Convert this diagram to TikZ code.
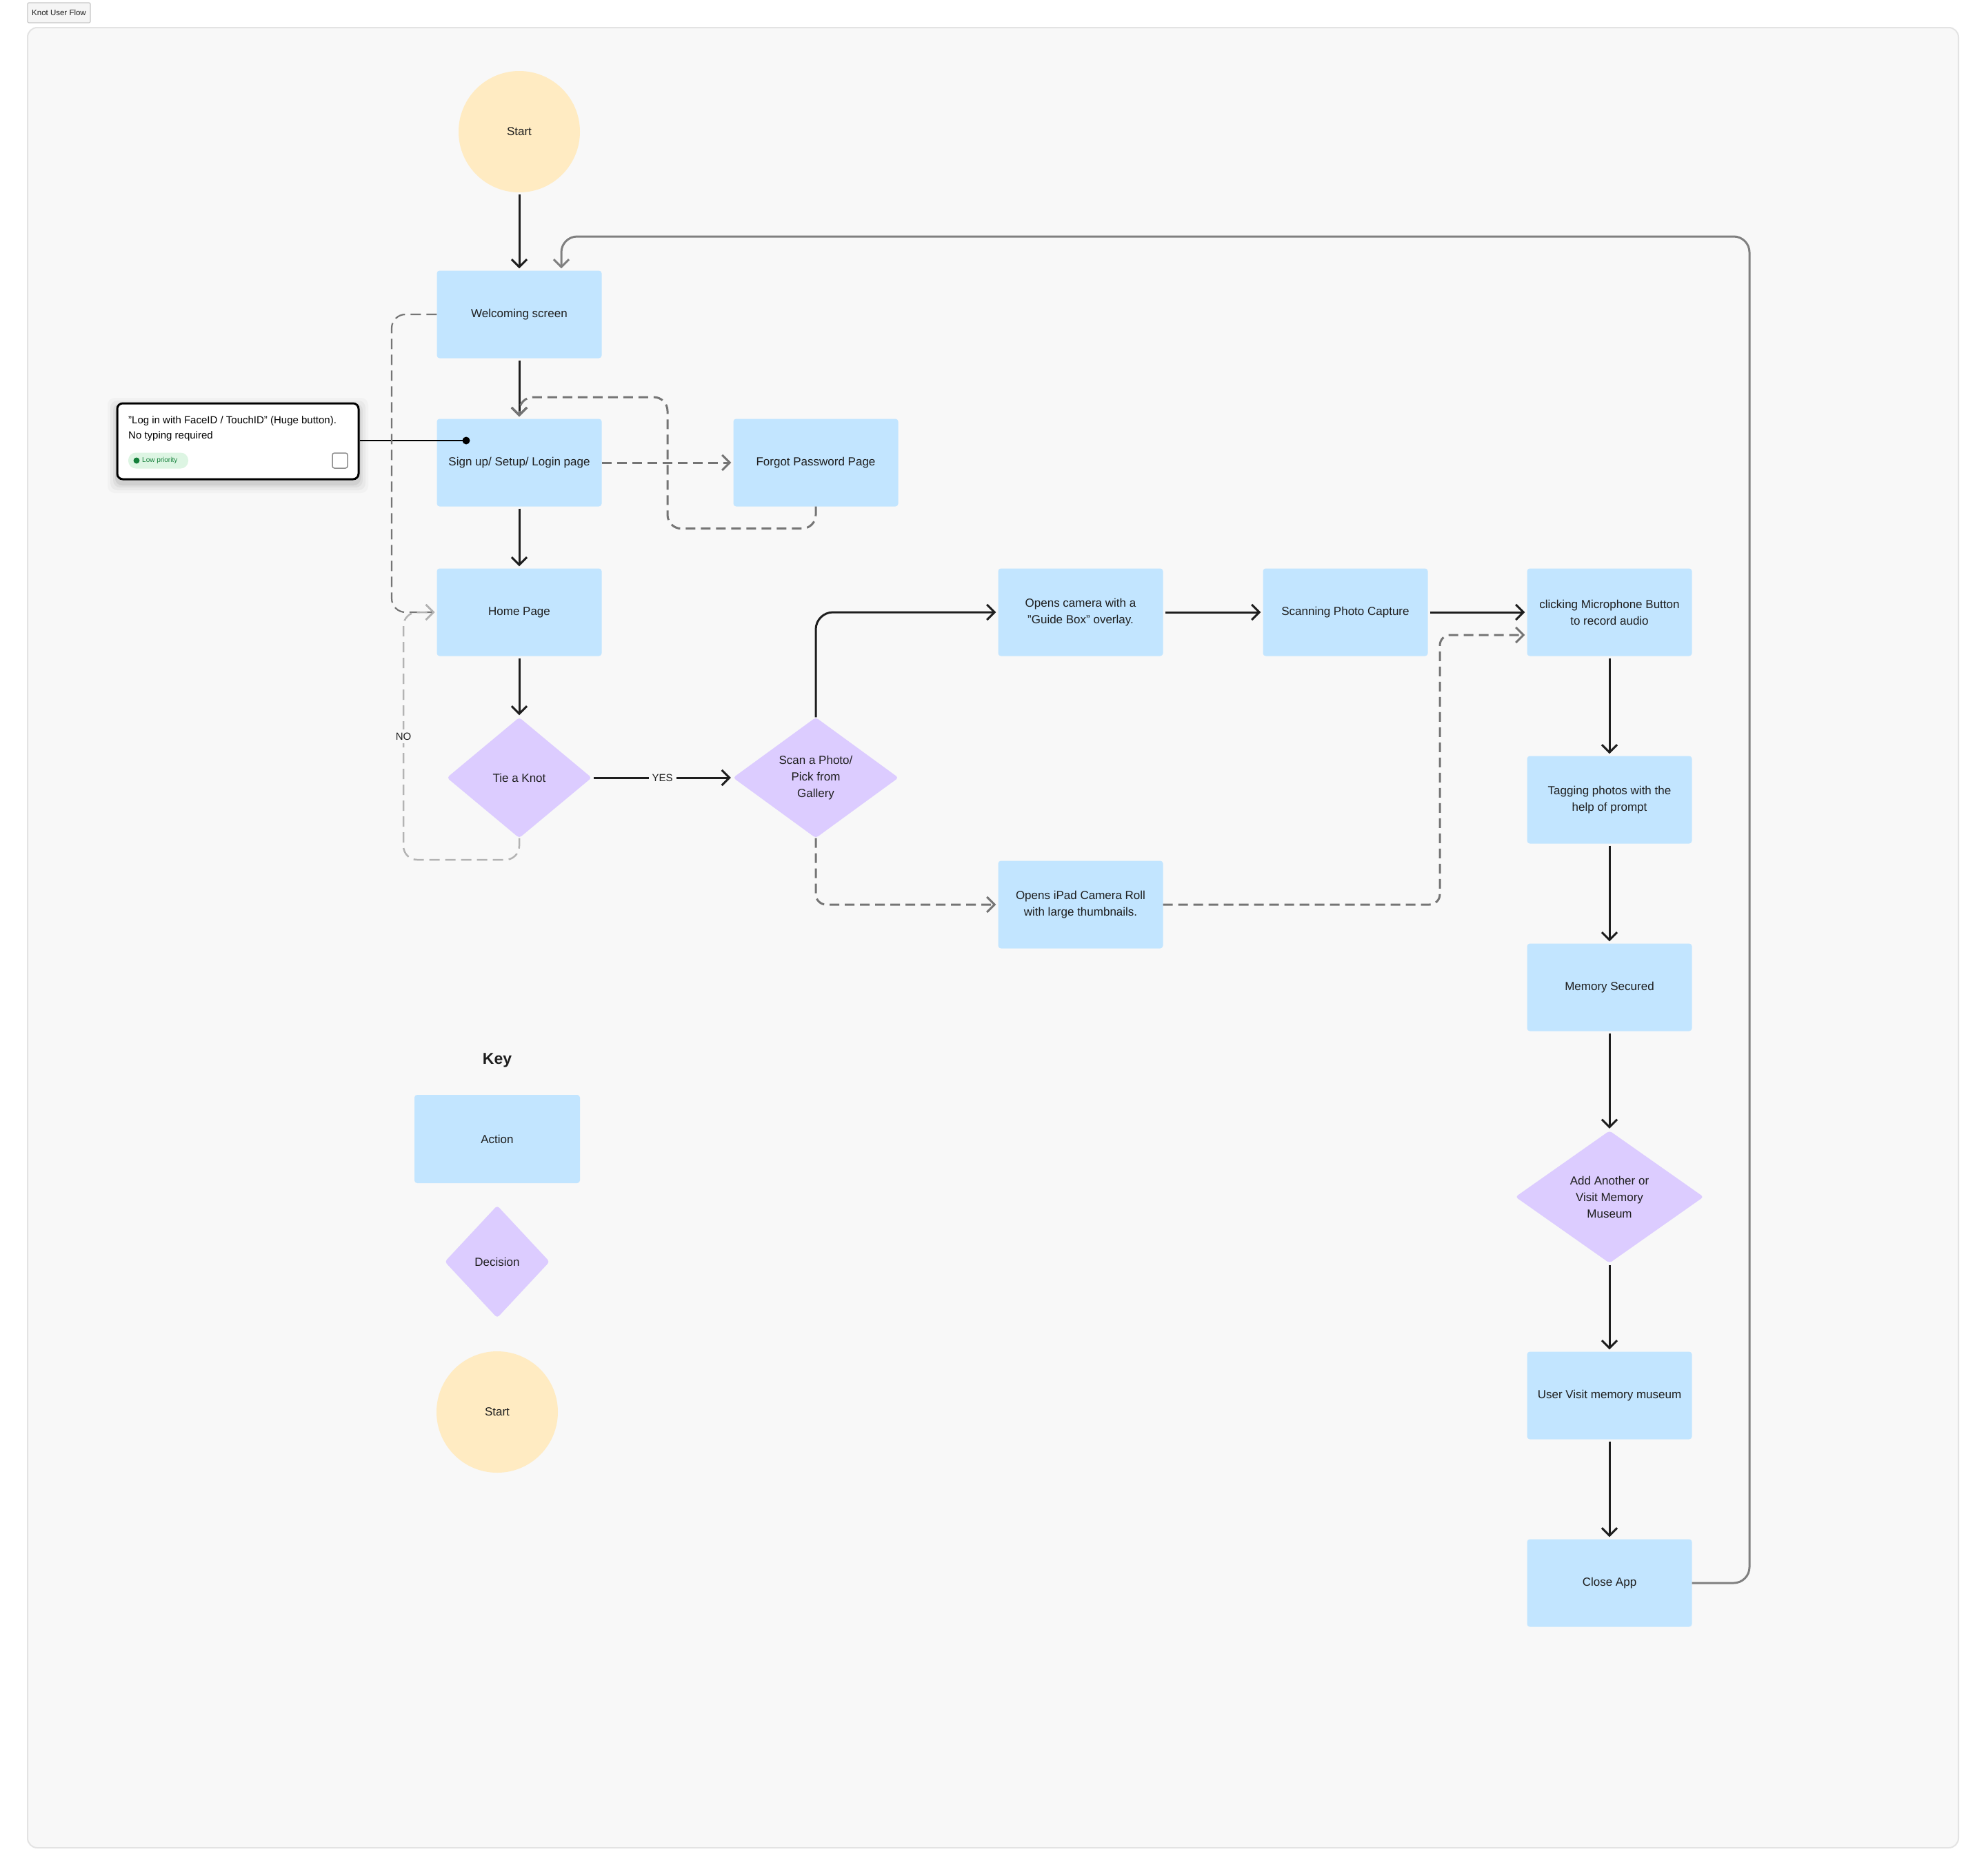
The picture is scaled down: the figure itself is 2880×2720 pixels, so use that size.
\documentclass[tikz,border=0pt]{standalone}
\usepackage{fontspec}
\setmainfont{Liberation Sans}
\usetikzlibrary{shapes.geometric,arrows.meta,calc}
\definecolor{actblue}{HTML}{C2E5FF}
\definecolor{decpurple}{HTML}{DCCCFF}
\definecolor{startyel}{HTML}{FFEBC2}
\definecolor{txtcol}{HTML}{1E1E1E}
\definecolor{bgcol}{HTML}{F8F8F8}
\definecolor{framecol}{HTML}{E3E3E3}
\definecolor{dashgray}{HTML}{757575}
\definecolor{nogray}{HTML}{B3B3B3}
\definecolor{retgray}{HTML}{808080}
\definecolor{pillgreen}{HTML}{DDF5E3}
\definecolor{darkgreen}{HTML}{14803A}
\newcommand\kfNodeFont{\fontsize{17}{24}\selectfont}
\newcommand\kfSmallFont{\fontsize{15}{22}\selectfont}
\begin{document}
\begin{tikzpicture}[x=1pt,y=-1pt,
  act/.style={rectangle,rounded corners=4pt,fill=actblue,minimum width=239pt,minimum height=127pt,align=center,font=\kfNodeFont,text=txtcol,inner sep=0pt},
  dec/.style={diamond,rounded corners=4pt,fill=decpurple,align=center,font=\kfNodeFont,text=txtcol,inner sep=0pt,aspect=1.3},
  startc/.style={circle,fill=startyel,minimum size=176pt,font=\kfNodeFont,text=txtcol,inner sep=0pt},
  flow/.style={draw=txtcol,line width=3pt,-{Straight Barb[length=11pt,width=22pt]},shorten >=3pt,shorten <=3pt},
  dflow/.style={draw=dashgray,line width=3pt,dash pattern=on 14pt off 8pt,-{Straight Barb[length=11pt,width=22pt]},shorten >=3pt},
  dflowthin/.style={draw=dashgray,line width=2.2pt,dash pattern=on 15pt off 8pt,-{Straight Barb[length=11pt,width=22pt]},shorten >=3pt},
  noflow/.style={draw=nogray,line width=2.5pt,dash pattern=on 15pt off 8pt,-{Straight Barb[length=11pt,width=22pt]},shorten >=3pt},
  retflow/.style={draw=retgray,line width=3pt,-{Straight Barb[length=11pt,width=22pt]},shorten >=3pt},
  lbl/.style={fill=bgcol,font=\kfSmallFont,text=txtcol,inner sep=5pt}
]
% canvas and frame
\fill[white] (0,0) rectangle (2880,2720);
\useasboundingbox (0,0) rectangle (2880,2720);
\draw[fill=bgcol,draw=framecol,line width=2pt,rounded corners=14pt] (40,40) rectangle (2840,2680);
\node[draw=black!22,fill=black!4,line width=1.2pt,rounded corners=2pt,minimum width=91pt,minimum height=29pt,inner sep=0pt,font=\fontsize{11.5}{14}\selectfont,text=txtcol] (title) at (85.5,18.5) {Knot User Flow};

% main nodes
\node[startc] (start) at (753,191) {Start};
\node[act] (welcome) at (753,456) {Welcoming screen};
\node[act] (signup) at (753,671) {Sign up/ Setup/ Login page};
\node[act] (forgot) at (1183,671) {Forgot Password Page};
\node[act] (home) at (753,888) {Home Page};
\node[dec,minimum width=210pt,minimum height=175pt] (knot) at (753,1128) {Tie a Knot};
\node[dec,minimum width=240pt,minimum height=175pt] (scan) at (1183,1128) {Scan a Photo/\\Pick from\\Gallery};
\node[act] (camera) at (1567,888) {Opens camera with a\\"Guide Box" overlay.};
\node[act] (scanning) at (1951,888) {Scanning Photo Capture};
\node[act] (mic) at (2334,888) {clicking Microphone Button\\to record audio};
\node[act] (roll) at (1567,1312) {Opens iPad Camera Roll\\with large thumbnails.};
\node[act] (tag) at (2334,1160) {Tagging photos with the\\help of prompt};
\node[act] (secured) at (2334,1432) {Memory Secured};
\node[dec,minimum width=273pt,minimum height=192pt] (another) at (2334,1736) {Add Another or\\Visit Memory\\Museum};
\node[act] (visit) at (2334,2024) {User Visit memory museum};
\node[act] (close) at (2334,2296) {Close App};

% key
\node[font=\bfseries\fontsize{23}{28}\selectfont,text=txtcol] (key) at (721,1538) {Key};
\node[act,minimum width=240pt,minimum height=128pt] (keyact) at (721,1652) {Action};
\node[dec,minimum width=152pt,minimum height=163pt] (keydec) at (721,1830) {Decision};
\node[startc] (keystart) at (721,2048) {Start};

% note card with shadow
\foreach \s/\o in {14/0.025,10/0.035,6/0.045,3/0.06}{
  \fill[black,opacity=\o,rounded corners=10pt] (170-\s,585-\s+6) rectangle (520+\s,695+\s+6);
}
\node[draw=black,fill=white,line width=3pt,rounded corners=8pt,minimum width=350pt,minimum height=110pt,inner sep=0pt] (note) at (345,640) {};
\node[anchor=west,align=left,font=\kfSmallFont,text=black,inner sep=0pt] (notetext) at (186,622) {"Log in with FaceID / TouchID" (Huge button).\\No typing required};
\node[fill=pillgreen,rounded corners=11pt,minimum width=87pt,minimum height=23pt,inner sep=0pt] (pill) at (229.5,668) {};
\fill[darkgreen] (198,668) circle (4.5pt);
\node[anchor=west,font=\fontsize{10}{12}\selectfont,text=darkgreen,inner sep=0pt] (pilltext) at (206,668) {Low priority};
\node[draw=black!45,line width=1.5pt,rounded corners=3pt,minimum width=22pt,minimum height=22pt,inner sep=0pt] (check) at (493,668) {};
\coordinate (notedot) at (676,639);
\draw[black,line width=2.5pt] (note.east|-notedot) -- (notedot);
\fill[black] (notedot) circle (5.5pt);

% waypoints
\coordinate (fpL) at (968,576);
\coordinate (wl) at (568,456);
\coordinate (nl) at (585,1247);
\coordinate (rx) at (2088,1312);
\coordinate (retc) at (2537,343);

% solid flow
\draw[flow] (start) -- (welcome);
\draw[flow] (welcome) -- (signup);
\draw[flow] (signup) -- (home);
\draw[flow] (home) -- (knot);
\draw[flow] (knot) -- node[lbl] (yes) {YES} (scan);
\draw[flow,rounded corners=25pt,shorten <=0pt] (scan.north) |- (camera.west);
\draw[flow] (camera) -- (scanning);
\draw[flow] (scanning) -- (mic);
\draw[flow] (mic) -- (tag);
\draw[flow] (tag) -- (secured);
\draw[flow] (secured) -- (another);
\draw[flow] (another) -- (visit);
\draw[flow] (visit) -- (close);

% return loop
\draw[retflow,rounded corners=23pt] (close.east) -| (retc) -| ($(welcome.north)+(61,0)$);

% dashed flows
\draw[dflow] (signup) -- (forgot);
\draw[dflow,rounded corners=20pt] (forgot.south) -- ++(0,32) -| (fpL) -| (signup.north);
\draw[dflowthin,rounded corners=20pt] (welcome.west) -- (wl) |- (home.west);
\draw[noflow,rounded corners=20pt] (knot.south) |- (nl) |- (home.west);
\node[lbl] (nolbl) at (585,1068) {NO};
\draw[dflow,rounded corners=15pt] (scan.south) |- (roll.west);
\draw[dflow,rounded corners=15pt] (roll.east) -- (rx) |- ($(mic.west)+(0,33)$);
\end{tikzpicture}
\end{document}
